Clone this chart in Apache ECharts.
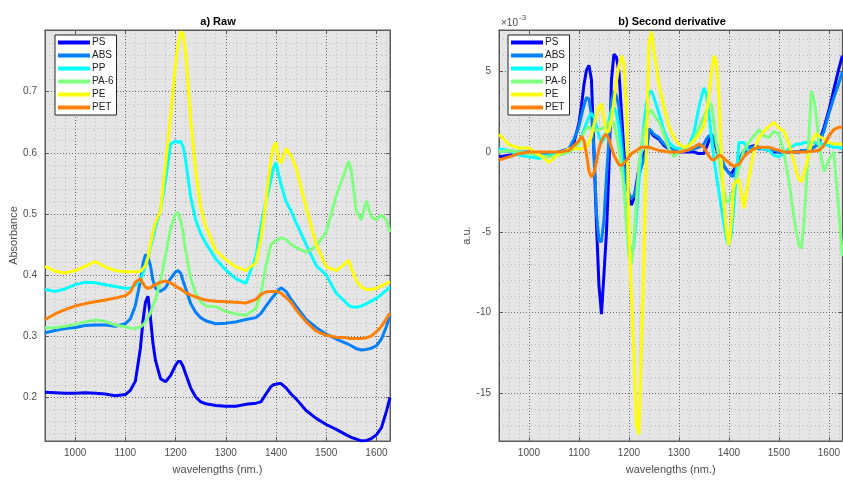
<!DOCTYPE html>
<html>
<head>
<meta charset="utf-8">
<script src="https://cdn.jsdelivr.net/npm/echarts@6/dist/echarts.min.js"></script>
<style>
html, body { margin: 0; padding: 0; background: #fff; }
#chart-container { width: 843px; height: 480px; }
</style>
</head>
<body>
<div id="chart-container"></div>
<script>
// series names and colours (jet-like)
const names = ['PS', 'ABS', 'PP', 'PA-6', 'PE', 'PET'];
const colors = ['#0000ff', '#0080ff', '#00ffff', '#80ff80', '#ffff00', '#ff8000'];

// tick labels
const xTicks = [1000, 1100, 1200, 1300, 1400, 1500, 1600];
const rawTicks = [0.2, 0.3, 0.4, 0.5, 0.6, 0.7];
const derivTicks = [-15, -10, -5, 0, 5];

// a) raw spectra
const wlRaw = [940, 960, 980, 1000, 1020, 1040, 1060, 1080, 1100, 1110, 1120, 1130,
  1135, 1140, 1145, 1150, 1155, 1160, 1170, 1180, 1190, 1200, 1205, 1210, 1215, 1220,
  1230, 1240, 1250, 1260, 1280, 1300, 1320, 1340, 1360, 1370, 1380, 1390, 1395, 1400,
  1405, 1410, 1420, 1430, 1440, 1460, 1480, 1500, 1520, 1540, 1545, 1550, 1560, 1570,
  1580, 1590, 1600, 1610, 1620, 1627];

const rawPS = [0.208, 0.207, 0.206, 0.206, 0.207, 0.206, 0.205, 0.202, 0.204, 0.211, 0.226, 0.28,
  0.324, 0.355, 0.365, 0.33, 0.288, 0.26, 0.23, 0.225, 0.235, 0.252, 0.258, 0.258, 0.25, 0.238,
  0.215, 0.2, 0.192, 0.189, 0.186, 0.185, 0.185, 0.188, 0.19, 0.192, 0.205, 0.217, 0.22, 0.221,
  0.222, 0.222, 0.215, 0.205, 0.197, 0.178, 0.165, 0.155, 0.147, 0.138, 0.136, 0.134, 0.131, 0.128,
  0.129, 0.132, 0.138, 0.15, 0.177, 0.199];
const rawABS = [0.305, 0.309, 0.312, 0.314, 0.317, 0.318, 0.318, 0.316, 0.32, 0.328, 0.35, 0.39,
  0.418, 0.433, 0.43, 0.415, 0.391, 0.378, 0.373, 0.379, 0.394, 0.405, 0.407, 0.403, 0.39, 0.378,
  0.353, 0.339, 0.33, 0.325, 0.32, 0.321, 0.323, 0.327, 0.33, 0.337, 0.349, 0.36, 0.365, 0.37,
  0.375, 0.379, 0.373, 0.36, 0.349, 0.327, 0.314, 0.303, 0.295, 0.288, 0.286, 0.284, 0.279, 0.277,
  0.278, 0.28, 0.284, 0.295, 0.316, 0.334];
const rawPP = [0.376, 0.373, 0.377, 0.384, 0.388, 0.387, 0.384, 0.381, 0.378, 0.378, 0.383, 0.392,
  0.402, 0.415, 0.428, 0.445, 0.462, 0.478, 0.507, 0.555, 0.614, 0.619, 0.617, 0.619, 0.61, 0.588,
  0.528, 0.49, 0.468, 0.452, 0.426, 0.408, 0.394, 0.386, 0.43, 0.48, 0.52, 0.556, 0.575, 0.584,
  0.565, 0.548, 0.52, 0.505, 0.485, 0.45, 0.415, 0.4, 0.37, 0.354, 0.35, 0.348, 0.347, 0.349,
  0.353, 0.357, 0.362, 0.368, 0.375, 0.38];
const rawPA6 = [0.313, 0.314, 0.316, 0.319, 0.323, 0.326, 0.324, 0.318, 0.315, 0.313, 0.312, 0.315,
  0.318, 0.323, 0.33, 0.338, 0.35, 0.36, 0.39, 0.432, 0.475, 0.5, 0.502, 0.49, 0.47, 0.44,
  0.395, 0.37, 0.356, 0.349, 0.348, 0.34, 0.336, 0.334, 0.345, 0.37, 0.415, 0.45, 0.453, 0.456,
  0.458, 0.461, 0.458, 0.45, 0.445, 0.437, 0.447, 0.47, 0.53, 0.575, 0.586, 0.57, 0.505, 0.49,
  0.521, 0.495, 0.49, 0.498, 0.49, 0.47];
const rawPE = [0.414, 0.406, 0.403, 0.407, 0.414, 0.422, 0.413, 0.407, 0.405, 0.405, 0.405, 0.406,
  0.41, 0.415, 0.428, 0.45, 0.47, 0.485, 0.505, 0.58, 0.66, 0.745, 0.777, 0.798, 0.795, 0.765,
  0.655, 0.57, 0.51, 0.48, 0.44, 0.425, 0.413, 0.407, 0.42, 0.46, 0.52, 0.59, 0.61, 0.617,
  0.59, 0.583, 0.607, 0.595, 0.575, 0.51, 0.45, 0.413, 0.407, 0.42, 0.424, 0.41, 0.39, 0.38,
  0.376, 0.376, 0.378, 0.382, 0.386, 0.389];
const rawPET = [0.327, 0.336, 0.343, 0.349, 0.353, 0.356, 0.359, 0.362, 0.366, 0.372, 0.388, 0.394,
  0.386, 0.38, 0.378, 0.379, 0.382, 0.384, 0.388, 0.39, 0.387, 0.382, 0.379, 0.377, 0.374, 0.371,
  0.367, 0.364, 0.361, 0.359, 0.357, 0.356, 0.355, 0.354, 0.36, 0.368, 0.372, 0.373, 0.373, 0.373,
  0.372, 0.37, 0.363, 0.355, 0.343, 0.323, 0.308, 0.301, 0.298, 0.297, 0.296, 0.296, 0.296, 0.296,
  0.297, 0.3, 0.307, 0.316, 0.328, 0.337];

// b) second derivative (x 10^-3)
const wlDeriv = [940, 960, 980, 1000, 1020, 1040, 1060, 1080, 1090,
  1100, 1105, 1110, 1115, 1120, 1125, 1130, 1135, 1140, 1145,
  1150, 1155, 1160, 1165, 1170, 1175, 1180, 1185, 1190, 1195,
  1200, 1205, 1210, 1215, 1220, 1225, 1230, 1235, 1240, 1245, 1250,
  1260, 1270, 1280, 1290, 1300, 1310, 1320, 1330, 1340, 1350,
  1355, 1360, 1365, 1370, 1375, 1380, 1385, 1390, 1395, 1400, 1405,
  1410, 1420, 1430, 1440, 1450, 1460, 1470, 1480, 1490, 1500, 1510, 1520, 1530,
  1535, 1540, 1545, 1550, 1555, 1560, 1565, 1570, 1575, 1580,
  1590, 1600, 1610, 1620, 1627];

const dPS = [-0.3, -0.2, -0.1, 0.0, -0.1, -0.2, 0.0, 0.2, 0.6,
  1.8, 2.9, 4.2, 5.1, 5.4, 4.5, 0.0, -4.5, -8.3, -10.1,
  -7.6, -5.0, -1.0, 4.5, 6.1, 5.9, 5.0, 2.5, 0.0, -1.6,
  -2.8, -3.3, -2.9, -2.0, -1.0, -0.5, -0.1, 0.2, 1.3, 1.2, 1.0,
  0.8, 0.4, 0.2, 0.0, 0.0, 0.0, 0.0, 0.0, -0.1, -0.1,
  0.3, 0.7, 1.1, 0.8, 0.2, -0.3, -0.6, -0.9, -1.1, -1.3, -1.35,
  -1.1, -0.6, 0.0, 0.3, 0.4, 0.3, 0.2, 0.1, 0.0, 0.0, 0.0, 0.0, 0.0,
  0.0, 0.0, 0.1, 0.1, 0.1, 0.2, 0.2, 0.3, 0.4, 0.6,
  1.5, 2.6, 3.9, 5.2, 6.0];
const dABS = [0.0, 0.1, 0.0, 0.0, -0.1, -0.1, 0.0, 0.2, 0.8,
  1.6, 2.3, 2.9, 3.4, 3.3, 2.3, 0.1, -3.8, -5.5, -5.6,
  -4.2, -1.5, 0.8, 3.2, 3.8, 3.5, 2.8, 1.0, -0.8, -1.8,
  -2.6, -2.9, -2.7, -2.2, -1.5, -0.9, -0.4, 0.0, 1.45, 1.3, 1.1,
  0.9, 0.5, 0.3, 0.1, 0.1, 0.1, 0.1, 0.2, 0.3, 0.5,
  0.8, 1.0, 1.1, 0.8, 0.4, 0.0, -0.4, -0.8, -1.1, -1.3, -1.5,
  -1.5, -0.5, 0.1, 0.3, 0.3, 0.2, 0.2, 0.1, 0.1, 0.0, 0.0, 0.0, 0.0,
  0.0, 0.0, 0.1, 0.1, 0.1, 0.2, 0.2, 0.3, 0.4, 0.5,
  1.3, 2.4, 3.4, 4.3, 5.0];
const dPP = [0.2, 0.1, -0.2, -0.3, -0.4, -0.2, -0.1, 0.1, 0.2,
  0.6, 1.0, 1.4, 1.8, 2.2, 2.4, 2.2, 1.6, 1.0, 0.6,
  0.8, 1.3, 2.0, 2.6, 2.8, 2.4, 1.5, 0.0, -2.0, -4.0,
  -5.6, -6.3, -5.8, -4.0, -1.8, 0.2, 1.8, 3.0, 3.7, 3.8, 3.4,
  2.4, 1.3, 0.6, 0.3, 0.2, 0.2, 0.4, 1.2, 2.8, 4.0,
  3.6, 2.4, 0.9, -0.4, -1.5, -2.5, -3.5, -4.5, -5.4, -5.8, -5.0,
  -3.3, 0.6, 0.6, 0.0, 0.2, 0.3, 0.2, 0.1, -0.2, -0.3, -0.1, 0.2, 0.4,
  0.5, 0.5, 0.5, 0.6, 0.6, 0.6, 0.6, 0.6, 0.55, 0.5,
  0.5, 0.4, 0.3, 0.3, 0.2];
const dPA6 = [0.0, 0.1, 0.0, -0.1, -0.2, -0.3, -0.2, 0.0, 0.2,
  0.5, 0.9, 1.2, 1.45, 1.55, 1.45, 1.35, 1.35, 1.4, 1.45,
  1.5, 1.7, 1.85, 1.9, 1.8, 1.0, 0.2, -1.0, -2.3, -4.5,
  -6.5, -7.0, -5.5, -3.0, -0.8, 0.5, 1.4, 2.0, 2.5, 2.6, 2.3,
  1.9, 1.1, 0.2, -0.3, 0.0, 0.2, 0.4, 0.8, 1.5, 2.2,
  2.6, 3.0, 3.0, 1.8, 0.6, -0.4, -1.5, -2.5, -3.1, -3.1, -2.7,
  -2.2, -1.0, 0.1, 0.6, 1.0, 1.4, 1.0, 0.9, 1.3, 1.1, 0.0, -1.8, -4.0,
  -5.0, -5.8, -6.0, -4.5, -2.0, 1.0, 3.8, 3.3, 2.2, 0.5,
  -1.2, -0.5, 0.0, -3.8, -6.5];
const dPE = [1.1, 0.45, 0.25, 0.25, -0.15, -0.65, -0.1, 0.2, 0.2,
  0.2, 0.2, 0.25, 0.35, 0.6, 1.0, 1.7, 2.3, 2.8, 3.0,
  2.1, 1.2, 1.3, 2.0, 3.2, 4.4, 5.4, 6.0, 5.5, 2.5,
  -5.0, -9.0, -12.8, -17.0, -17.6, -12.0, -6.5, 0.5, 6.8, 7.5, 6.3,
  4.2, 2.8, 1.6, 0.9, 0.5, 0.3, 0.4, 0.7, 1.1, 1.6,
  2.4, 3.6, 5.0, 6.0, 5.6, 3.4, -0.5, -3.2, -5.0, -5.8, -4.3,
  -2.0, -1.7, -3.5, -1.6, 0.1, 0.9, 1.3, 1.6, 1.85, 1.5, 1.3, 0.5, -0.6,
  -1.2, -1.7, -1.85, -1.4, -0.8, -0.1, 0.5, 0.9, 1.15, 1.0,
  0.8, 0.6, 0.5, 0.5, 0.5];
const dPET = [-0.5, -0.3, -0.1, 0.0, 0.0, 0.0, 0.0, 0.1, 0.4,
  0.7, 1.0, 0.7, -0.1, -1.2, -1.55, -1.3, -0.6, 0.2, 0.7,
  1.0, 1.1, 0.8, 0.3, -0.2, -0.5, -0.8, -0.85, -0.7, -0.5,
  -0.3, -0.1, 0.0, 0.1, 0.2, 0.3, 0.3, 0.3, 0.3, 0.25, 0.2,
  0.1, 0.05, 0.0, 0.0, 0.0, 0.05, 0.15, 0.3, 0.5, 0.3,
  0.0, -0.25, -0.45, -0.5, -0.35, -0.2, -0.25, -0.4, -0.55, -0.65, -0.8,
  -0.9, -0.75, -0.3, 0.0, 0.2, 0.3, 0.3, 0.3, 0.2, 0.1, 0.0, 0.0, 0.0,
  0.0, 0.0, 0.0, 0.0, 0.0, 0.05, 0.05, 0.05, 0.1, 0.1,
  0.4, 1.0, 1.4, 1.55, 1.55];

const rawSeries = [rawPS, rawABS, rawPP, rawPA6, rawPE, rawPET];
const derivSeries = [dPS, dABS, dPP, dPA6, dPE, dPET];

const font = 'Arial, "Liberation Sans", sans-serif';
const frame = '#5a5a5a';
const textGrey = '#4d4d4d';

// minor grid positions (dotted lines every 20 nm / 0.02 / 1e-3)
const minorX = [];
for (let v = 960; v <= 1620; v += 20) if (v % 100) minorX.push(v);
const minorRaw = [];
for (let k = 7; k <= 40; k++) if (k % 5) minorRaw.push(k / 50);
const minorDeriv = [];
for (let v = -17; v <= 7; v++) if (v % 5) minorDeriv.push(v);

const xMin = 940, xMax = 1627;
const rawMin = 0.128, rawMax = 0.801;
const derivMin = -18.0, derivMax = 7.6;

function mainAxis(gridIndex, min, max, ticks, extra) {
  return Object.assign({
    type: 'value', gridIndex: gridIndex, min: min, max: max,
    axisLine: { show: true, onZero: false, lineStyle: { color: frame } },
    axisTick: { show: true, inside: true, length: 4, customValues: ticks, lineStyle: { color: frame } },
    axisLabel: { customValues: ticks, fontFamily: font, fontSize: 10, color: textGrey, formatter: v => String(v) },
    splitLine: { show: true, lineStyle: { color: '#6e6e6e', type: [1, 2] } },
    nameTextStyle: { fontFamily: font, fontSize: 11, color: textGrey }
  }, extra);
}
function mirrorAxis(gridIndex, min, max, ticks, position) {
  return {
    type: 'value', gridIndex: gridIndex, min: min, max: max, position: position,
    axisLine: { show: true, onZero: false, lineStyle: { color: frame } },
    axisTick: { show: true, inside: true, length: 4, customValues: ticks, lineStyle: { color: frame } },
    axisLabel: { show: false },
    splitLine: { show: false }
  };
}
function minorAxis(gridIndex, min, max, ticks, position) {
  return {
    type: 'value', gridIndex: gridIndex, min: min, max: max, position: position,
    axisLine: { show: false },
    axisTick: { show: false, customValues: ticks },
    axisLabel: { show: false },
    splitLine: { show: true, lineStyle: { color: '#bdbdbd', type: [1, 3] } }
  };
}

const xLabel = { customValues: xTicks, fontFamily: font, fontSize: 10, color: textGrey, margin: 7, formatter: v => String(v) };
const xAxes = [
  mainAxis(0, xMin, xMax, xTicks, { name: 'wavelengths (nm.)', nameLocation: 'middle', nameGap: 23, axisLabel: xLabel }),
  mainAxis(1, xMin, xMax, xTicks, { name: 'wavelengths (nm.)', nameLocation: 'middle', nameGap: 23, axisLabel: xLabel }),
  mirrorAxis(0, xMin, xMax, xTicks, 'top'),
  mirrorAxis(1, xMin, xMax, xTicks, 'top'),
  minorAxis(0, xMin, xMax, minorX, 'bottom'),
  minorAxis(1, xMin, xMax, minorX, 'bottom')
];
const yAxes = [
  mainAxis(0, rawMin, rawMax, rawTicks, { name: 'Absorbance', nameLocation: 'middle', nameGap: 25, position: 'left' }),
  mainAxis(1, derivMin, derivMax, derivTicks, { name: 'a.u.', nameLocation: 'middle', nameGap: 23, position: 'left' }),
  mirrorAxis(0, rawMin, rawMax, rawTicks, 'right'),
  mirrorAxis(1, derivMin, derivMax, derivTicks, 'right'),
  minorAxis(0, rawMin, rawMax, minorRaw, 'left'),
  minorAxis(1, derivMin, derivMax, minorDeriv, 'left')
];

const series = [];
names.forEach(function (name, i) {
  series.push({
    name: name, type: 'line', xAxisIndex: 0, yAxisIndex: 0,
    data: wlRaw.map((w, j) => [w, rawSeries[i][j]]),
    showSymbol: false, symbol: 'none', clip: true,
    lineStyle: { width: 3, color: colors[i] }, itemStyle: { color: colors[i] }
  });
});
names.forEach(function (name, i) {
  series.push({
    name: name, type: 'line', xAxisIndex: 1, yAxisIndex: 1,
    data: wlDeriv.map((w, j) => [w, derivSeries[i][j]]),
    showSymbol: false, symbol: 'none', clip: true,
    lineStyle: { width: 3, color: colors[i] }, itemStyle: { color: colors[i] }
  });
});

function legendAt(left) {
  return {
    data: names, orient: 'vertical', left: left, top: 35,
    icon: 'rect', itemWidth: 32, itemHeight: 4, itemGap: 0,
    backgroundColor: '#fff', borderColor: '#222', borderWidth: 1, borderRadius: 0,
    padding: [1, 3, 1, 3],
    textStyle: { fontFamily: font, fontSize: 10, color: '#222', lineHeight: 13, padding: [0, 0, 0, -3] }
  };
}

const chart = echarts.init(document.getElementById('chart-container'), null, { renderer: 'canvas' });
chart.setOption({
  animation: false,
  backgroundColor: '#fff',
  title: [
    { text: 'a) Raw', left: 218, top: 16, textAlign: 'center', padding: 0,
      textStyle: { fontFamily: font, fontSize: 11, fontWeight: 'bold', color: '#000' } },
    { text: 'b) Second derivative', left: 672, top: 16, textAlign: 'center', padding: 0,
      textStyle: { fontFamily: font, fontSize: 11, fontWeight: 'bold', color: '#000' } }
  ],
  graphic: [
    { type: 'text', left: 501, top: 18, style: { text: '\u00d710', font: '10px ' + font, fill: textGrey } },
    { type: 'text', left: 519, top: 14, style: { text: '-3', font: '8px ' + font, fill: textGrey } }
  ],
  legend: [legendAt(55), legendAt(508)],
  grid: [
    { left: 45, top: 30, width: 345, height: 413, show: true, backgroundColor: '#e5e5e5', borderColor: frame, borderWidth: 1 },
    { left: 499, top: 30, width: 345, height: 413, show: true, backgroundColor: '#e5e5e5', borderColor: frame, borderWidth: 1 }
  ],
  xAxis: xAxes,
  yAxis: yAxes,
  series: series
});
</script>
</body>
</html>
